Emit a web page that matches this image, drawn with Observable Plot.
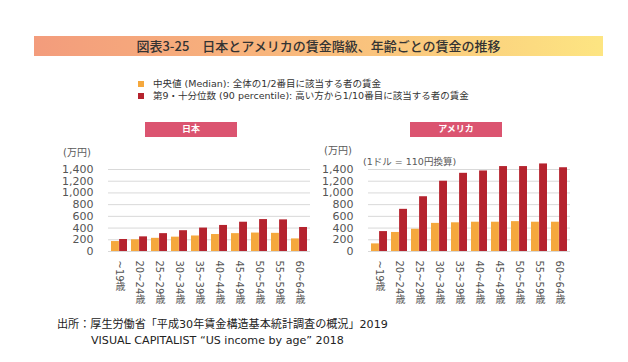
<!DOCTYPE html>
<html><head><meta charset="utf-8">
<script src="https://cdn.jsdelivr.net/npm/d3@7"></script>
<script src="https://cdn.jsdelivr.net/npm/@observablehq/plot@0.6"></script>
<style>
body{margin:0;background:#fff;}
#page{position:relative;width:628px;height:362px;overflow:hidden;font-family:"DejaVu Sans","Noto Sans CJK JP",sans-serif;color:#333;}
.abs{position:absolute;white-space:nowrap;}
</style></head><body><div id="page"></div>
<script>
const titleText = "図表3-25　日本とアメリカの賃金階級、年齢ごとの賃金の推移";
const ages = ["~19歳","20~24歳","25~29歳","30~34歳","35~39歳","40~44歳","45~49歳","50~54歳","55~59歳","60~64歳"];
const jpMedian = [170, 200, 225, 245, 265, 290, 305, 315, 310, 215];
const jp90     = [205, 250, 305, 355, 400, 445, 500, 545, 540, 410];
const usMedian = [130, 325, 380, 480, 490, 500, 500, 510, 500, 500];
const us90     = [340, 720, 935, 1200, 1335, 1375, 1450, 1450, 1495, 1430];
const yTicks = [0, 200, 400, 600, 800, 1000, 1200, 1400];
const seriesLabels = ["中央値 (Median): 全体の1/2番目に該当する者の賃金", "第9・十分位数 (90 percentile): 高い方から1/10番目に該当する者の賃金"];
const seriesColors = ["#f5a83d", "#b5232e"];
const panelNames = ["日本", "アメリカ"];
const unitLabel = "(万円)";
const rateNote = "(1ドル = 110円換算)";
const sourceLines = ["出所：厚生労働省「平成30年賃金構造基本統計調査の概況」2019", "VISUAL CAPITALIST “US income by age” 2018"];

const page = document.getElementById("page");
function addDiv(html, css) {
  const d = document.createElement("div");
  d.className = "abs";
  d.innerHTML = html;
  Object.assign(d.style, css);
  page.appendChild(d);
  return d;
}

// title band
addDiv(titleText, {left:"34px", top:"35.5px", width:"569px", height:"20px", lineHeight:"20px", textAlign:"center",
  background:"linear-gradient(to right, #f39c7c, #f8b47c 40%, #fbd07e 75%, #fde582)", fontSize:"13px", color:"#333",
  fontFamily:'"Noto Sans CJK JP",sans-serif', fontWeight:"500"});

// legend
seriesLabels.forEach((t, i) => {
  const cy = i === 0 ? 84 : 96.3;
  addDiv("", {left:"137.5px", top:(cy-3)+"px", width:"6px", height:"6px", background:seriesColors[i]});
  addDiv(t, {left:"153px", top:(cy-7)+"px", height:"14px", lineHeight:"14px", fontSize:"9.5px", color:"#333"});
});

// panel labels
[[145, panelNames[0]], [410, panelNames[1]]].forEach(([x, t]) => {
  addDiv(t, {left:x+"px", top:"122.3px", width:"92px", height:"14.5px", lineHeight:"14.5px", textAlign:"center",
    background:"#db5470", color:"#fff", fontWeight:"bold", fontSize:"9px", fontFamily:'"Noto Sans CJK JP",sans-serif'});
});

// unit labels
addDiv(unitLabel, {left:"63px", top:"145.5px", height:"14px", lineHeight:"14px", fontSize:"10px", color:"#595959"});
addDiv(unitLabel, {left:"324px", top:"144px", height:"14px", lineHeight:"14px", fontSize:"10px", color:"#595959"});
addDiv(rateNote, {left:"363px", top:"154.7px", height:"14px", lineHeight:"14px", fontSize:"9.5px", color:"#595959"});

function chart(median, p90, left) {
  const rows = ages.map((a, i) => ({age: a, median: median[i], p90: p90[i]}));
  const svg = Plot.plot({
    width: 320, height: 165,
    marginLeft: 108, marginRight: 10, marginTop: 29, marginBottom: 54,
    style: {fontFamily: '"DejaVu Sans","Noto Sans CJK JP",sans-serif', fontSize: "11px", color: "#555", background: "transparent", overflow: "visible"},
    x: {domain: ages, paddingInner: 0.2, paddingOuter: 0.1, axis: null},
    y: {domain: [0, 1400], ticks: yTicks, tickSize: 0, tickPadding: 15, tickFormat: d3.format(","), label: null},
    marks: [
      Plot.ruleY(yTicks, {stroke: "#d9d9d9", strokeWidth: 1}),
      Plot.barY(rows, {x: "age", y: "median", fill: seriesColors[0], insetRight: 8.1}),
      Plot.barY(rows, {x: "age", y: "p90", fill: seriesColors[1], insetLeft: 8.1}),
      Plot.text(ages, {x: d => d, frameAnchor: "bottom", dy: 9, textAnchor: "start", fill: "#555", fontSize: 10})
    ]
  });
  svg.style.position = "absolute";
  svg.style.left = left + "px";
  svg.style.top = "140px";
  svg.style.maxWidth = "none";
  svg.querySelectorAll("text").forEach(t => {
    if (ages.includes(t.textContent)) {
      t.removeAttribute("dy");
      t.setAttribute("text-anchor", "start");
      t.style.writingMode = "vertical-rl";
    }
  });
  page.appendChild(svg);
}
chart(jpMedian, jp90, 0);
chart(usMedian, us90, 260);

// source
addDiv(sourceLines[0], {left:"57px", top:"318px", height:"14px", lineHeight:"14px", fontSize:"11.1px", color:"#222"});
addDiv(sourceLines[1], {left:"91px", top:"334px", height:"14px", lineHeight:"14px", fontSize:"11.1px", color:"#222"});
</script></body></html>
